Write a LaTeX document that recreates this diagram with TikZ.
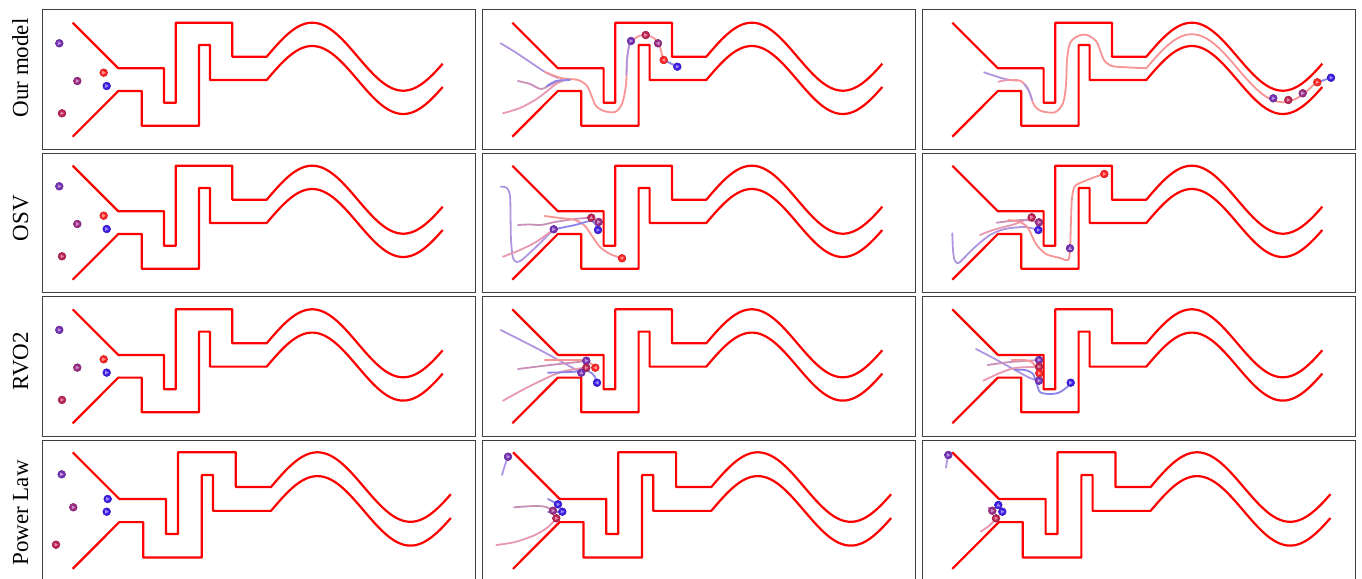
\documentclass[tikz,border=0pt]{standalone}
\usepackage{fontspec}
\setmainfont{Liberation Serif}
\definecolor{wall}{HTML}{FF0000}
\definecolor{agRed}{HTML}{FF2424}
\definecolor{agBlue}{HTML}{3C1EE6}
\definecolor{agPurp}{HTML}{7630B4}
\definecolor{agMag}{HTML}{9A2C86}
\definecolor{agCrim}{HTML}{BC2252}
\definecolor{trPurp}{HTML}{B096E0}
\definecolor{trBlue}{HTML}{8C84EA}
\definecolor{trMag}{HTML}{C890B8}
\definecolor{trPink}{HTML}{E898B0}
\definecolor{trRed}{HTML}{F89494}
\tikzset{
  wallline/.style={draw=wall, line width=2.2pt, line join=round},
  panel/.style={draw=black!75, line width=1pt},
  trail/.style={line width=1.8pt, line cap=round, line join=round},
  rowlabel/.style={font=\fontsize{23}{23}\selectfont, rotate=90, anchor=base, inner sep=0pt},
  pics/maze/.style={code={
    \draw[wallline] (0,0) -- (45.6,45.6) -- (91.3,45.6) -- (91.3,80) -- (103,80) -- (103,0) -- (159.6,0) -- (159.6,34) -- (194,34) -- plot[domain=0:176,samples=80] (194+\x,{34-34*sin(1.978022*\x)});
    \draw[wallline] (0,114) -- (45.6,68.3) -- (69,68.3) -- (69,103) -- (126.3,103) -- (126.3,22.3) -- (137.3,22.3) -- (137.3,57.3) -- (194,57.3) -- plot[domain=0:176,samples=80] (194+\x,{57.3-34*sin(1.978022*\x)});
  }},
}
\newcommand\agentdot[4][0]{%
  \begin{scope}[shift={(#2,#3)}]
    \fill[#4, draw=#4!80!black, line width=0.5pt] (0,0) circle (3.9pt);
    \fill[#4!50!white, rotate=#1] (2.1pt,0pt) -- (-1.5pt,1.9pt) -- (-1.5pt,-1.9pt) -- cycle;
  \end{scope}}
\begin{document}
\begin{tikzpicture}[x=1pt,y=-1pt]
\useasboundingbox (0,0) rectangle (1362,578);
\clip (0,0) rectangle (1362,578);
\fill[white] (0,0) rectangle (1362,578);
% panels
\foreach \px/\qx in {42.7/475, 482.7/915.3, 922.3/1355.7}{
  \draw[panel] (\px,9.3) rectangle (\qx,149);
  \draw[panel] (\px,153.3) rectangle (\qx,292.3);
  \draw[panel] (\px,296.7) rectangle (\qx,436);
  \draw[panel] (\px,440) rectangle (\qx,582);
}
% row labels
\node[rowlabel] (l1) at (28,68) {Our model};
\node[rowlabel] (l2) at (28,218.3) {OSV};
\node[rowlabel] (l3) at (28,361) {RVO2};
\node[rowlabel] (l4) at (28,513) {Power Law};
% mazes
\foreach \ox in {72.7, 512.3, 952.3}{
  \pic at (\ox,22.7) {maze};
  \pic at (\ox,165.7) {maze};
  \pic at (\ox,309.3) {maze};
}
\pic[scale=1.022] at (72.7,452.3) {maze};
\pic[scale=1.022] at (513,452.3) {maze};
\pic[scale=1.022] at (952.3,452.3) {maze};

% ---------- column 1 initial positions ----------
\foreach \dy in {0,143,286.6}{
  \agentdot{59.3}{43.3+\dy}{agPurp}
  \agentdot{77.3}{81+\dy}{agMag}
  \agentdot{103.7}{72.7+\dy}{agRed}
  \agentdot{106.7}{86+\dy}{agBlue}
  \agentdot{62}{113.3+\dy}{agCrim}
}
\agentdot{61.7}{474.3}{agPurp}
\agentdot{73.3}{507.3}{agMag}
\agentdot{107.7}{499}{agBlue}
\agentdot{106.7}{511.7}{agBlue}
\agentdot{56}{544.7}{agCrim}

% ---------- row 1 col 2 ----------
\draw[trail,trPurp] plot[smooth] coordinates {(500.7,43.3) (515,52) (530,62) (545,72) (558,78)};
\draw[trail,trMag] plot[smooth] coordinates {(518,81) (530,84) (541,89) (550,85) (561,80)};
\draw[trail,trPink] plot[smooth] coordinates {(503,113.3) (520,108) (535,100) (546,92) (556,84) (565,80)};
\draw[trail,trRed] plot[smooth] coordinates {(545,72) (561,78) (578,80) (587,86) (592,97) (596,106) (604,111) (615,112) (622,104) (626,85) (627,60) (629,46) (631,41)};
\draw[trail,trBlue] plot[smooth] coordinates {(547,86) (556,81) (570,80)};
\draw[trail,trPurp] plot[smooth] coordinates {(626.5,75) (627,60) (629,46) (631,41)};
\draw[trail,trRed] plot[smooth] coordinates {(631,41) (639,36) (646,35) (655,39) (660,47) (662,55) (664,60)};
\draw[trail,trBlue] (664,60) -- (677.3,66.7);
\agentdot{631}{41}{agPurp}
\agentdot{645.7}{35}{agCrim}
\agentdot[180]{658}{43.3}{agMag}
\agentdot[180]{663.7}{60}{agRed}
\agentdot{677.3}{66.7}{agBlue}

% ---------- row 1 col 3 ----------
\draw[trail,trPurp] plot[smooth] coordinates {(984,72.3) (995,76) (1005,79) (1015,80.5)};
\draw[trail,trPink] plot[smooth] coordinates {(998.3,81.7) (1008,80) (1018,80.5)};
\draw[trail,trRed] plot[smooth] coordinates {(1010,80) (1020,80.7) (1027,87) (1031,97) (1034,105) (1041,111) (1055,112.3) (1063,103) (1066,85) (1067,60) (1070,43) (1078,36) (1087,35) (1096,41) (1100,50) (1104,60) (1112,66) (1130,67.5) (1146.3,68.2)}
  -- plot[domain=0:171,samples=60] (1146.3+\x,{68.2-34*sin(1.978022*\x)});
\draw[trail,trPurp] plot[smooth] coordinates {(1024,84) (1029,91) (1032,100)};
\draw[trail,trBlue] (1317.3,82.3) -- (1331,77.7);
\agentdot{1273.3}{98.3}{agPurp}
\agentdot{1288.3}{100}{agCrim}
\agentdot{1302.7}{93.3}{agMag}
\agentdot{1317.3}{82.3}{agRed}
\agentdot{1331}{77.7}{agBlue}

% ---------- row 2 col 2 ----------
\draw[trail,trPurp] plot[smooth] coordinates {(500.7,186.7) (507,188) (510,196) (510.5,215) (511,240) (513,258) (517,262) (523,259) (537,246) (553.7,229.3)};
\draw[trail,trPink] plot[smooth] coordinates {(503,256.7) (520,250) (536,242) (553.7,229.3)};
\draw[trail,trMag] plot[smooth] coordinates {(518,225) (530,224.5) (541,225) (555,222) (575,219) (591.3,217.7)};
\draw[trail,trRed] plot[smooth] coordinates {(544.7,216) (560,218) (575,220) (585,226) (592,236) (600,247) (610,254) (622,258.3)};
\draw[trail,trBlue] plot[smooth] coordinates {(553.7,229.3) (575,225) (592,221) (598,230)};
\agentdot{553.7}{229.3}{agPurp}
\agentdot[90]{591.3}{217.7}{agCrim}
\agentdot{598.7}{222}{agMag}
\agentdot{598}{230}{agBlue}
\agentdot[-90]{622}{258.3}{agRed}

% ---------- row 2 col 3 ----------
\draw[trail,trPurp] plot[smooth] coordinates {(952.3,233.3) (953,250) (954.5,260) (958,263.3) (963,259) (975,247) (990,235) (1005,229) (1025,227) (1038.3,230)};
\draw[trail,trPink] plot[smooth] coordinates {(980,235) (990,231) (1000,228) (1015,224) (1031.7,217.3)};
\draw[trail,trMag] plot[smooth] coordinates {(996.7,222.7) (1010,221) (1025,220) (1039,222.3)};
\draw[trail,trRed] plot[smooth] coordinates {(1008.3,220) (1020,222) (1028,228) (1036,244) (1046,254) (1060,258) (1068,260) (1070,250) (1071,220) (1072,198) (1075,186) (1085,181) (1095,177) (1104.3,174)};
\agentdot{1031.7}{217.3}{agCrim}
\agentdot{1039}{222.3}{agMag}
\agentdot{1038.3}{230}{agBlue}
\agentdot[90]{1070}{248.3}{agPurp}
\agentdot{1104.3}{174}{agRed}

% ---------- row 3 col 2 ----------
\draw[trail,trPurp] plot[smooth] coordinates {(500.7,330) (540,350) (574.7,369) (581.3,372.7)};
\draw[trail,trMag] plot[smooth] coordinates {(518,369) (550,365) (578,362) (586.3,360.7)};
\draw[trail,trPink] plot[smooth] coordinates {(503,400.7) (530,386) (561,372) (586.3,367.7)};
\draw[trail,trRed] plot[smooth] coordinates {(544.7,360) (570,360) (586.3,360.7) (595.3,367.7)};
\draw[trail,trBlue] plot[smooth] coordinates {(548,372.7) (570,372) (588,371) (594.7,376.7) (597,382.7)};
\agentdot{586.3}{360.7}{agPurp}
\agentdot{586.3}{367.7}{agCrim}
\agentdot[180]{595.3}{367.7}{agRed}
\agentdot[90]{581.3}{372.7}{agPurp}
\agentdot[180]{597}{382.7}{agBlue}

% ---------- row 3 col 3 ----------
\draw[trail,trPurp] plot[smooth] coordinates {(976,349) (995,359) (1015,370) (1030,378) (1039,380.7)};
\draw[trail,trMag] plot[smooth] coordinates {(987.7,365) (1010,362) (1039,360)};
\draw[trail,trPink] plot[smooth] coordinates {(983.3,380.7) (1000,373) (1015,368) (1039,366.7)};
\draw[trail,trRed] plot[smooth] coordinates {(1011.7,360) (1025,360) (1033,363) (1039,373.3)};
\draw[trail,trBlue] plot[smooth] coordinates {(1015,370) (1025,370) (1033,374) (1036.7,384) (1040,392) (1048,394) (1058,393) (1066,388) (1070.7,382.7)};
\agentdot{1039}{360}{agPurp}
\agentdot{1039}{366.7}{agCrim}
\agentdot{1039.3}{373.3}{agRed}
\agentdot{1039}{380.7}{agPurp}
\agentdot{1070.7}{382.7}{agBlue}

% ---------- row 4 col 2 ----------
\draw[trail,trPurp] plot[smooth] coordinates {(502,475) (505,465) (508,456.7)};
\draw[trail,trMag] plot[smooth] coordinates {(514,507.3) (535,506) (546,507) (553,510.7)};
\draw[trail,trPink] plot[smooth] coordinates {(496.3,545) (515,542) (535,535) (548,527) (556.3,518.3)};
\draw[trail,trBlue] (548,499) -- (558,504.3);
\draw[trail,trBlue] (548,511.7) -- (562.3,511.7);
\agentdot{508}{456.7}{agPurp}
\agentdot{558}{504.3}{agBlue}
\agentdot{553}{510.7}{agMag}
\agentdot{562.3}{511.7}{agBlue}
\agentdot{556.3}{518.3}{agCrim}

% ---------- row 4 col 3 ----------
\draw[trail,trPurp] plot[smooth] coordinates {(946,467.7) (947,461) (948.3,455)};
\draw[trail,trMag] (988.3,507.7) -- (992.3,510.7);
\draw[trail,trPink] plot[smooth] coordinates {(980.7,531.7) (990,525) (996,518.3)};
\agentdot{948.3}{455}{agPurp}
\agentdot[90]{998.3}{505}{agBlue}
\agentdot{992.3}{510.7}{agMag}
\agentdot{1002.3}{511.7}{agBlue}
\agentdot{996}{518.3}{agCrim}
\end{tikzpicture}
\end{document}
